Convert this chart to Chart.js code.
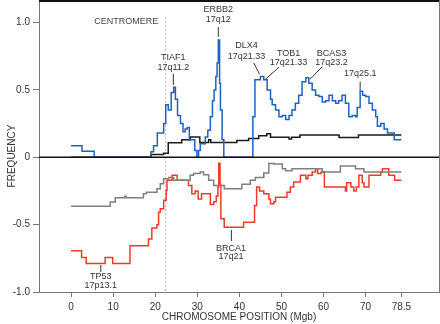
<!DOCTYPE html>
<html>
<head>
<meta charset="utf-8">
<script src="https://cdn.jsdelivr.net/npm/chart.js@4.4.1/dist/chart.umd.min.js"></script>
<style>
  html, body { margin: 0; padding: 0; background: #fff; }
  #wrap { width: 440px; height: 324px; position: relative; }
</style>
</head>
<body>
<div id="wrap"><canvas id="c" width="440" height="324"></canvas></div>
<script>
// ---- data (chromosome position in Mb, frequency) ----
const gainFreq = [[0,0.085],[2.6,0.045],[5.5,0],[19.0,0.04],[19.6,0.085],[20.5,0.18],[22,0.25],[22.5,0.39],[23.1,0.35],[23.8,0.48],[24.4,0.52],[24.8,0.43],[25.3,0.31],[26,0.25],[26.6,0.19],[27.1,0.21],[27.6,0.22],[28.1,0.13],[29.4,0.05],[29.9,0],[30.3,0.05],[30.7,0.1],[31.9,0.15],[32.5,0.2],[33.1,0.3],[33.6,0.42],[34.0,0.5],[34.4,0.6],[34.7,0.7],[35.0,0.87],[35.3,0.55],[35.5,0.35],[35.9,0.13],[36.3,0],[43.2,0.3],[43.7,0.575],[45,0.6],[45.8,0.575],[46.6,0.5],[47.4,0.43],[47.8,0.39],[48.6,0.35],[49.4,0.3],[50.2,0.31],[51,0.28],[51.8,0.31],[52.5,0.35],[53.3,0.4],[54.1,0.46],[54.9,0.56],[55.8,0.59],[56.5,0.55],[57.3,0.5],[58.1,0.46],[58.9,0.45],[59.7,0.41],[60.5,0.42],[61.3,0.46],[62.1,0.42],[62.9,0.4],[63.6,0.42],[64.4,0.46],[65.2,0.4],[66,0.3],[66.8,0.31],[67.6,0.3],[68,0.37],[68.7,0.49],[69.3,0.46],[70,0.45],[70.8,0.4],[71.6,0.35],[72.4,0.3],[72.8,0.23],[73.6,0.25],[74.4,0.21],[75.2,0.18],[76.8,0.13],[78.5,0.13]];
const gainMean = [[0,0],[19,0.02],[22,0.03],[23.1,0.107],[26.3,0.13],[28.3,0.15],[30.6,0.11],[32.7,0.13],[33.2,0.11],[39.4,0.125],[42.2,0.14],[44.6,0.16],[46.5,0.175],[47.4,0.148],[51.8,0.135],[52.4,0.148],[54.4,0.165],[63.7,0.147],[68.3,0.165],[78.5,0.165]];
const lossMean = [[0,-0.363],[9.3,-0.333],[10.5,-0.30],[12.7,-0.29],[13.1,-0.30],[17.2,-0.27],[17.9,-0.26],[20.4,-0.234],[21.2,-0.196],[22,-0.16],[23.2,-0.15],[24.4,-0.17],[28.3,-0.134],[29.1,-0.12],[30.7,-0.11],[31.5,-0.13],[32.7,-0.17],[33.9,-0.21],[36.4,-0.234],[40.6,-0.2],[42.6,-0.17],[43.8,-0.15],[45.8,-0.117],[47,-0.047],[48.2,-0.05],[50.2,-0.085],[51,-0.1],[52.5,-0.085],[59.7,-0.11],[64,-0.065],[67.6,-0.085],[69.6,-0.11],[78.5,-0.11]];
const lossFreq = [[0,-0.694],[2.5,-0.744],[3.6,-0.789],[8.1,-0.744],[9.9,-0.789],[14,-0.657],[18.4,-0.607],[19.2,-0.525],[20.4,-0.5],[20.8,-0.408],[21.2,-0.383],[22,-0.32],[22.6,-0.246],[22.8,-0.17],[24,-0.134],[25.2,-0.17],[27.9,-0.21],[28.7,-0.27],[29.5,-0.25],[30.2,-0.31],[31,-0.27],[32.6,-0.27],[33.1,-0.35],[33.9,-0.33],[34.5,-0.29],[34.9,-0.22],[35.1,-0.045],[35.4,-0.2],[35.6,-0.457],[36.4,-0.52],[41,-0.483],[43.6,-0.358],[44.1,-0.22],[44.8,-0.25],[45.8,-0.27],[47,-0.31],[47.4,-0.345],[48.2,-0.33],[48.6,-0.296],[51.3,-0.259],[52.1,-0.22],[52.9,-0.184],[54.5,-0.134],[55.8,-0.16],[56.3,-0.134],[57.3,-0.11],[58.1,-0.085],[58.6,-0.12],[59.4,-0.11],[60.2,-0.22],[65.2,-0.25],[65.5,-0.19],[66.5,-0.22],[67.2,-0.25],[67.8,-0.22],[68.4,-0.134],[69.2,-0.19],[69.6,-0.22],[70.8,-0.134],[73.6,-0.11],[74,-0.085],[75.5,-0.134],[76.9,-0.17],[78.5,-0.17]];
const xTicks = [0,10,20,30,40,50,60,70,78.5];
const yTicks = [-1.0,-0.5,0,0.5,1.0];
const yTickLabels = ['-1.0','-0.5','0','0.5','1.0'];
const centromere = 22.4;
// gene labels: text lines, label x, label y per line, leader from (x,y) to (x,y)
const genes = [
  {lines:['TIAF1','17q11.2'], x:24.3, y:[0.740,0.666], lead:[24.3,0.618,24.3,0.536]},
  {lines:['ERBB2','17q12'], x:35.0, y:[1.093,1.019], lead:[35.0,0.966,35.0,0.893]},
  {lines:['DLX4','17q21.33'], x:41.7, y:[0.826,0.751], lead:[43.4,0.700,44.8,0.617]},
  {lines:['TOB1','17q21.33'], x:51.7, y:[0.771,0.701], lead:[49.4,0.668,46.2,0.579]},
  {lines:['BCAS3','17q23.2'], x:61.9, y:[0.771,0.701], lead:[59.7,0.672,56.8,0.579]},
  {lines:['17q25.1'], x:68.7, y:[0.618], lead:[68.7,0.561,68.7,0.494]},
  {lines:['TP53','17p13.1'], x:7.07, y:[-0.886,-0.955], lead:[7.07,-0.800,7.07,-0.852]},
  {lines:['BRCA1','17q21'], x:38.0, y:[-0.677,-0.737], lead:[38.1,-0.540,38.1,-0.622]}
];

const toPts = a => a.map(p => ({x:p[0], y:p[1]}));
const FONT = '"Liberation Sans", Arial, Helvetica, sans-serif';
const TXT = '#333';

const overlay = {
  id: 'overlay',
  beforeDatasetsDraw(chart) {
    const {ctx, scales:{x, y}, chartArea:a} = chart;
    ctx.save();
    ctx.strokeStyle = '#bbb';
    ctx.lineWidth = 1;
    ctx.setLineDash([2,2]);
    ctx.beginPath();
    const cx = Math.round(x.getPixelForValue(centromere)) + 0.5;
    ctx.moveTo(cx, y.getPixelForValue(1.04));
    ctx.lineTo(cx, a.bottom);
    ctx.stroke();
    ctx.setLineDash([]);
    ctx.restore();
  },
  afterDatasetsDraw(chart) {
    const {ctx, scales:{x, y}, chartArea:a} = chart;
    ctx.save();
    // zero line
    ctx.strokeStyle = '#111';
    ctx.lineWidth = 1.5;
    ctx.beginPath();
    const zy = y.getPixelForValue(0);
    ctx.moveTo(a.left, zy); ctx.lineTo(a.right, zy);
    ctx.stroke();
    // frame top (black) and right (gray)
    ctx.strokeStyle = '#111';
    ctx.lineWidth = 2;
    ctx.beginPath();
    ctx.moveTo(a.left, a.top + 1); ctx.lineTo(a.right + 1, a.top + 1);
    ctx.stroke();
    ctx.strokeStyle = '#777';
    ctx.lineWidth = 1;
    ctx.beginPath();
    ctx.moveTo(a.right + 0.5, a.top); ctx.lineTo(a.right + 0.5, a.bottom + 0.5);
    ctx.stroke();
    // centromere label
    ctx.fillStyle = '#444';
    ctx.font = '9px ' + FONT;
    ctx.textAlign = 'right';
    ctx.textBaseline = 'middle';
    ctx.fillText('CENTROMERE', x.getPixelForValue(20.73), y.getPixelForValue(1.004));
    // gene labels
    ctx.textAlign = 'center';
    ctx.fillStyle = TXT;
    genes.forEach(g => {
      g.lines.forEach((t, i) => ctx.fillText(t, x.getPixelForValue(g.x), y.getPixelForValue(g.y[i])));
      ctx.strokeStyle = '#333';
      ctx.lineWidth = 1;
      ctx.beginPath();
      ctx.moveTo(x.getPixelForValue(g.lead[0]), y.getPixelForValue(g.lead[1]));
      ctx.lineTo(x.getPixelForValue(g.lead[2]), y.getPixelForValue(g.lead[3]));
      ctx.stroke();
    });
    // axis titles
    ctx.font = '10px ' + FONT;
    ctx.fillStyle = TXT;
    ctx.textBaseline = 'alphabetic';
    ctx.fillText('CHROMOSOME POSITION (Mgb)', (a.left + a.right) / 2, 320);
    ctx.textBaseline = 'middle';
    ctx.translate(12, 156);
    ctx.rotate(-Math.PI / 2);
    ctx.fillText('FREQUENCY', 0, 0);
    ctx.restore();
  }
};

const common = {fill:false, pointRadius:0, borderWidth:1.5, stepped:'before', tension:0};
new Chart(document.getElementById('c'), {
  type: 'line',
  data: {
    datasets: [
      Object.assign({label:'gain', data: toPts(gainFreq), borderColor:'#1f62c0'}, common),
      Object.assign({label:'gain mean', data: toPts(gainMean), borderColor:'#1a1a1a'}, common),
      Object.assign({label:'loss mean', data: toPts(lossMean), borderColor:'#7f7f7f'}, common),
      Object.assign({label:'loss', data: toPts(lossFreq), borderColor:'#ee3b2b'}, common)
    ]
  },
  options: {
    responsive: false,
    animation: false,
    layout: {padding: {left:0, right:1, top:0, bottom:0}},
    plugins: {legend:{display:false}, tooltip:{enabled:false}},
    scales: {
      x: {
        type: 'linear', min: -7.62, max: 87.44,
        afterBuildTicks: s => { s.ticks = xTicks.map(v => ({value:v})); },
        afterFit: s => { s.height = 32; s.paddingLeft = 0; s.paddingRight = 0; },
        ticks: {
          autoSkip:false, maxRotation:0, padding:4, color:TXT,
          font:{family:FONT, size:10},
          callback: v => String(v)
        },
        grid: {display:true, drawOnChartArea:false, drawTicks:true, tickLength:5, color:'#777', lineWidth:1},
        border: {display:true, color:'#777', width:1}
      },
      y: {
        type: 'linear', min: -1, max: 1.167,
        afterBuildTicks: s => { s.ticks = yTicks.map(v => ({value:v})); },
        afterFit: s => { s.width = 39; s.paddingTop = 0; s.paddingBottom = 0; },
        ticks: {
          autoSkip:false, padding:3, color:TXT,
          font:{family:FONT, size:10},
          callback: v => yTickLabels[yTicks.indexOf(v)]
        },
        grid: {display:true, drawOnChartArea:false, drawTicks:true, tickLength:6, color:'#777', lineWidth:1},
        border: {display:true, color:'#777', width:1}
      }
    }
  },
  plugins: [overlay]
});
</script>
</body>
</html>
